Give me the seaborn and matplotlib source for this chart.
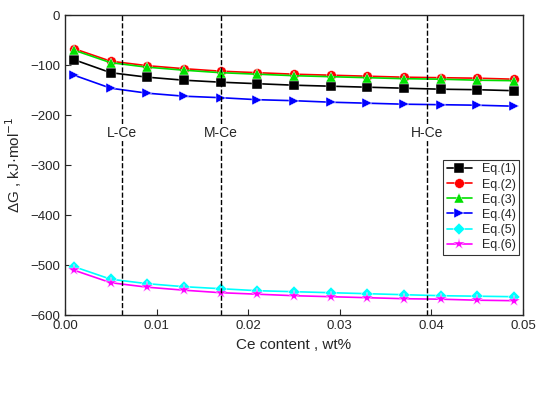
import matplotlib
matplotlib.use("Agg")
import matplotlib.pyplot as plt
import seaborn as sns
import pandas as pd

sns.set_style("ticks")
plt.rcParams['font.family'] = ['Arial', 'Liberation Sans', 'DejaVu Sans']

x = [0.001, 0.005, 0.009, 0.013, 0.017, 0.021, 0.025, 0.029, 0.033, 0.037, 0.041, 0.045, 0.049]
eq1 = [-89, -115, -124, -130, -134, -137, -140, -142, -144, -146, -148, -149, -151]
eq2 = [-67, -92, -101, -107, -112, -115, -118, -120, -122, -124, -125, -126, -128]
eq3 = [-70, -95, -104, -110, -115, -118, -121, -123, -125, -127, -128, -130, -131]
eq4 = [-120, -146, -156, -162, -165, -169, -171, -174, -176, -178, -179, -180, -182]
eq5 = [-503, -528, -537, -543, -547, -551, -553, -555, -557, -559, -561, -562, -563]
eq6 = [-510, -535, -544, -550, -555, -558, -561, -563, -565, -567, -568, -570, -571]
names = ["Eq.(1)", "Eq.(2)", "Eq.(3)", "Eq.(4)", "Eq.(5)", "Eq.(6)"]
series = [eq1, eq2, eq3, eq4, eq5, eq6]
colors = ["black", "red", "#00e000", "blue", "cyan", "magenta"]
markers = ["s", "o", "^", ">", "D", "*"]
vlines = [0.0062, 0.017, 0.0395]
vlabels = ["L-Ce", "M-Ce", "H-Ce"]

df = pd.DataFrame({"x": x * 6, "y": sum(series, []),
                   "eq": [n for n in names for _ in x]})

fig = plt.figure(figsize=(5.5, 4), dpi=100)
ax = fig.add_axes([0.118, 0.212, 0.833, 0.75])
sns.lineplot(data=df, x="x", y="y", hue="eq", style="eq", palette=colors,
             markers=markers, dashes=False, markersize=7, markeredgewidth=0.3,
             linewidth=1.2, ax=ax)
for ln in ax.lines:
    if ln.get_marker() == "*":
        ln.set_markersize(9)
    elif ln.get_marker() == "D":
        ln.set_markersize(6)
for v, l in zip(vlines, vlabels):
    ax.axvline(v, color="black", ls="--", lw=1)
    ax.text(v, -235, l, ha="center", va="center", fontsize=10,
            bbox=dict(facecolor="white", edgecolor="none", pad=1))
ax.set_xlim(0, 0.05)
ax.set_ylim(-600, 0)
ax.set_xticks([0, 0.01, 0.02, 0.03, 0.04, 0.05])
ax.set_xticklabels(["0.00", "0.01", "0.02", "0.03", "0.04", "0.05"])
ax.set_xlabel("Ce content , wt%", fontsize=11)
ax.set_ylabel("ΔG , kJ·mol$^{-1}$", fontsize=11)
ax.tick_params(labelsize=9.5, direction="in", length=4)
for s in ax.spines.values():
    s.set_visible(True)
    s.set_linewidth(1)
leg = ax.legend(loc="center right", bbox_to_anchor=(1.0, 0.36), frameon=True,
                fontsize=9, handlelength=2.0, borderaxespad=0.3, labelspacing=0.25,
                fancybox=False, edgecolor="black", borderpad=0.3)
leg.get_frame().set_linewidth(0.8)
fig.savefig("out.png", dpi=100)
